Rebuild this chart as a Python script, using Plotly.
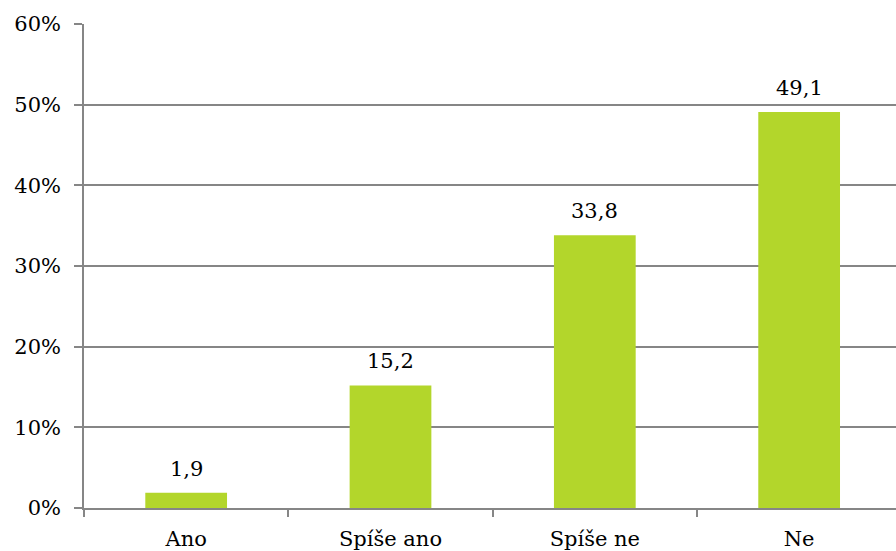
import plotly.graph_objects as go

categories = ["Ano", "Spíše ano", "Spíše ne", "Ne"]
values = [1.9, 15.2, 33.8, 49.1]
y_ticks = [0, 10, 20, 30, 40, 50, 60]

bar_color = "#b3d62b"
axis_color = "#868686"
font_family = "DejaVu Serif"
font_size = 21

fig = go.Figure()
fig.add_trace(go.Bar(
    x=categories,
    y=values,
    width=0.4,
    marker=dict(color=bar_color, line=dict(width=0)),
    hoverinfo="skip",
))

# value labels above each bar, decimal comma
for cat, v in zip(categories, values):
    fig.add_annotation(
        x=cat, y=v, text=f"{v:.1f}".replace(".", ","),
        showarrow=False, yanchor="bottom", yshift=10,
        font=dict(family=font_family, size=font_size, color="#000000"),
    )

fig.update_layout(
    width=896, height=551,
    margin=dict(l=84, r=0, t=24, b=43),
    paper_bgcolor="white", plot_bgcolor="white",
    showlegend=False,
    font=dict(family=font_family, size=font_size, color="#000000"),
    bargap=0.6,
)

fig.update_xaxes(
    type="category",
    range=[-0.5, 3.474],
    showline=True, linecolor=axis_color, linewidth=1.5,
    tickson="boundaries", ticks="outside", ticklen=7,
    tickcolor=axis_color, tickwidth=1.5,
    showgrid=False, ticklabelstandoff=11, automargin=False,
    tickfont=dict(family=font_family, size=font_size, color="#000000"),
    fixedrange=True,
)
fig.update_yaxes(
    range=[0, 60],
    tickvals=y_ticks,
    ticktext=[f"{t}%" for t in y_ticks],
    showgrid=True, gridcolor=axis_color, gridwidth=1.5,
    showline=True, linecolor=axis_color, linewidth=1.5,
    ticks="outside", ticklen=8, tickcolor=axis_color, tickwidth=1.5,
    zeroline=False, ticklabelstandoff=9, automargin=False,
    tickfont=dict(family=font_family, size=font_size, color="#000000"),
    fixedrange=True,
)

fig.write_html("out.html")
